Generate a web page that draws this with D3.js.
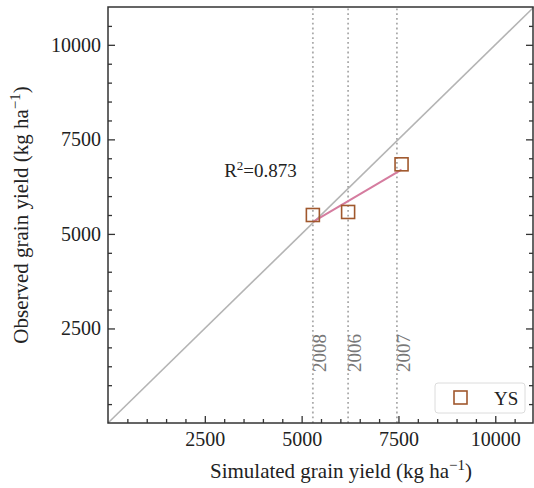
<!DOCTYPE html>
<html>
<head>
<meta charset="utf-8">
<script src="https://cdn.jsdelivr.net/npm/d3@7"></script>
<style>
  body { margin: 0; background: #fff; }
  svg, svg text { font-family: "Liberation Serif", "Times New Roman", serif; }
</style>
</head>
<body>
<div id="chart"></div>
<script>
// Data

const years = ["2008", "2006", "2007"];
const simulated = [5290, 6200, 7580];
const observed = [5500, 5580, 6840];
const yearLines = [5290, 6200, 7460];
const fitX = [5290, 7580];
const fitY = [5320, 6700];
const majorTicks = [2500, 5000, 7500, 10000];
const minorTicks = d3.range(500, 11000, 500).filter((v) => v % 2500 !== 0);
const r2Label = "0.873";

const serif = '"Liberation Serif", "Times New Roman", serif';

const width = 534;
const height = 488;
const margin = { top: 7, right: 0, bottom: 65, left: 108 };

const svg = d3
  .select("#chart")
  .append("svg")
  .attr("width", width)
  .attr("height", height);

const xScale = d3.scaleLinear().domain([0, 11000]).range([margin.left, width - margin.right]);
const yScale = d3.scaleLinear().domain([0, 11000]).range([height - margin.bottom, margin.top]);

const x0 = xScale.range()[0], x1 = xScale.range()[1];
const y0 = yScale.range()[0], y1 = yScale.range()[1];

// 1:1 line
svg
  .append("line")
  .attr("x1", xScale(0))
  .attr("y1", yScale(0))
  .attr("x2", xScale(11000))
  .attr("y2", yScale(11000))
  .style("stroke", "#b4b4b4")
  .style("stroke-width", 1.6);

// Year lines
svg
  .selectAll(".yearline")
  .data(yearLines)
  .enter()
  .append("line")
  .attr("x1", (d) => xScale(d))
  .attr("x2", (d) => xScale(d))
  .attr("y1", y0)
  .attr("y2", y1)
  .style("stroke", "#aaaaaa")
  .style("stroke-width", 1.8)
  .style("stroke-dasharray", "1.8,3");

svg
  .selectAll(".yearlabel")
  .data(years)
  .enter()
  .append("text")
  .attr("transform", (d, i) => `translate(${xScale(yearLines[i]) + 13},${yScale(1350)}) rotate(-90)`)
  .style("font-size", "19px")
  .style("fill", "#777")
  .text((d) => d);

// Fit line
svg
  .append("line")
  .attr("x1", xScale(fitX[0]))
  .attr("y1", yScale(fitY[0]))
  .attr("x2", xScale(fitX[1]))
  .attr("y2", yScale(fitY[1]))
  .style("stroke", "#d57c9f")
  .style("stroke-width", 2);

// Markers
svg
  .selectAll(".pt")
  .data(simulated)
  .enter()
  .append("rect")
  .attr("x", (d) => xScale(d) - 6.5)
  .attr("y", (d, i) => yScale(observed[i]) - 6.5)
  .attr("width", 13)
  .attr("height", 13)
  .style("fill", "none")
  .style("stroke", "#a0582d")
  .style("stroke-width", 1.6);

// R2 text
const r2 = svg
  .append("text")
  .attr("x", xScale(3000))
  .attr("y", yScale(6500))
  .style("font-size", "19px")
  .style("fill", "#222");
r2.append("tspan").text("R");
r2.append("tspan").attr("dy", -7).style("font-size", "13px").text("2");
r2.append("tspan").attr("dy", 7).text("=" + r2Label);

// Axes

function styleAxis(g) {
  g.attr("font-family", serif).attr("font-size", 20);
  g.select(".domain").remove();
  g.selectAll(".tick line").style("stroke", "#333").style("stroke-width", 1.3);
  g.selectAll(".tick text")
    .style("font-family", serif)
    .style("font-size", "20px")
    .style("fill", "#222");
}

svg
  .append("g")
  .attr("transform", `translate(${x0},0)`)
  .call(d3.axisLeft(yScale).tickValues(majorTicks).tickSize(-7).tickPadding(7).tickFormat(d3.format("d")))
  .call(styleAxis);

svg
  .append("g")
  .attr("transform", `translate(${x0},0)`)
  .call(d3.axisLeft(yScale).tickValues(minorTicks).tickSize(-4).tickFormat(""))
  .call(styleAxis);

svg
  .append("g")
  .attr("transform", `translate(${x1 - 1},0)`)
  .call(d3.axisRight(yScale).tickValues(majorTicks).tickSize(-7).tickFormat(""))
  .call(styleAxis);

svg
  .append("g")
  .attr("transform", `translate(${x1 - 1},0)`)
  .call(d3.axisRight(yScale).tickValues(minorTicks).tickSize(-4).tickFormat(""))
  .call(styleAxis);

svg
  .append("g")
  .attr("transform", `translate(0,${y0})`)
  .call(d3.axisBottom(xScale).tickValues(majorTicks).tickSize(-7).tickPadding(9).tickFormat(d3.format("d")))
  .call(styleAxis);

svg
  .append("g")
  .attr("transform", `translate(0,${y0})`)
  .call(d3.axisBottom(xScale).tickValues(minorTicks).tickSize(-4).tickFormat(""))
  .call(styleAxis);

// Frame
svg
  .append("rect")
  .attr("x", x0)
  .attr("y", y1)
  .attr("width", x1 - x0 - 1)
  .attr("height", y0 - y1)
  .style("fill", "none")
  .style("stroke", "#333")
  .style("stroke-width", 1.5);

// Axis titles
const xt = svg
  .append("text")
  .attr("x", 341)
  .attr("y", 478)
  .attr("text-anchor", "middle")
  .style("font-size", "21px")
  .style("fill", "#222");
xt.append("tspan").text("Simulated grain yield (kg ha");
xt.append("tspan").attr("dy", -8).style("font-size", "15px").text("\u22121");
xt.append("tspan").attr("dy", 8).text(")");

const yt = svg
  .append("text")
  .attr("transform", `translate(28,${(y0 + y1) / 2}) rotate(-90)`)
  .attr("text-anchor", "middle")
  .style("font-size", "21px")
  .style("fill", "#222");
yt.append("tspan").text("Observed grain yield (kg ha");
yt.append("tspan").attr("dy", -8).style("font-size", "15px").text("\u22121");
yt.append("tspan").attr("dy", 8).text(")");

// Legend
const legend = svg.append("g").attr("transform", "translate(435,383)");
legend
  .append("rect")
  .attr("width", 90)
  .attr("height", 30)
  .attr("rx", 3)
  .style("fill", "#fff")
  .style("fill-opacity", 0.85)
  .style("stroke", "#dcdcdc");
legend
  .append("rect")
  .attr("x", 19)
  .attr("y", 8)
  .attr("width", 13)
  .attr("height", 13)
  .style("fill", "none")
  .style("stroke", "#a0582d")
  .style("stroke-width", 1.6);
legend
  .append("text")
  .attr("x", 59)
  .attr("y", 22)
  .style("font-size", "19px")
  .style("fill", "#222")
  .text("YS");
</script>
</body>
</html>
